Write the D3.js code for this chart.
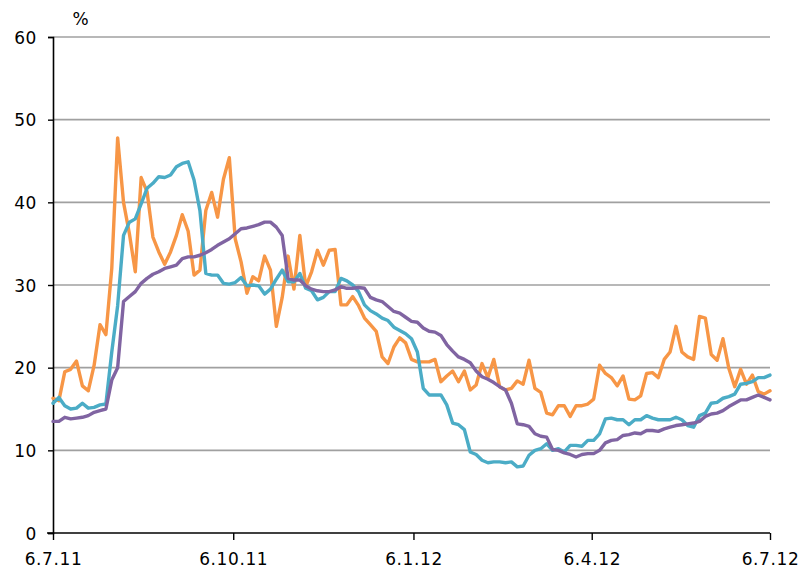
<!DOCTYPE html>
<html>
<head>
<meta charset="utf-8">
<script src="https://cdn.jsdelivr.net/npm/d3@7"></script>
<style>
  html, body { margin: 0; padding: 0; background: #fff; }
  svg text { font-family: "DejaVu Sans", sans-serif; font-size: 17px; fill: #000; letter-spacing: 0.6px; }
</style>
</head>
<body>
<svg id="chart" width="803" height="573"></svg>
<script>
// ---- data ----
const startDate = "2011-07-06";
const endDate = "2012-07-06";
const stepDays = 3; // observations every 3 days
const tickLabels = ["6.7.11", "6.10.11", "6.1.12", "6.4.12", "6.7.12"];
const yTicks = [0, 10, 20, 30, 40, 50, 60];
const unitLabel = "%";

const seriesOrange = [16.3,16.0,19.5,19.8,20.8,17.8,17.2,20.3,25.2,24.0,
  32.0,47.8,40.0,36.2,31.6,43.0,41.3,35.8,34.0,32.5,
  34.0,36.0,38.5,36.5,31.2,31.8,39.0,41.2,38.2,42.8,
  45.4,35.6,32.8,29.0,31.0,30.5,33.5,31.8,25.0,28.5,
  33.5,29.5,36.0,29.8,31.6,34.2,32.4,34.2,34.3,27.6,
  27.6,28.6,27.5,26.0,25.2,24.4,21.3,20.5,22.5,23.6,
  23.0,21.0,20.7,20.7,20.7,21.0,18.3,19.0,19.6,18.3,
  19.6,17.3,17.9,20.5,18.8,21.0,17.7,17.3,17.5,18.4,
  18.0,20.9,17.5,17.0,14.5,14.3,15.4,15.4,14.1,15.4,
  15.4,15.6,16.2,20.3,19.3,18.8,17.8,19.0,16.2,16.1,
  16.6,19.3,19.4,18.8,21.0,21.9,25.0,21.9,21.3,21.0,
  26.2,26.0,21.6,20.9,23.5,19.9,17.7,19.8,18.0,19.1,
  17.1,16.8,17.2];

const seriesTeal = [15.7,16.4,15.4,15.0,15.1,15.7,15.1,15.2,15.5,15.6,
  21.9,27.5,36.0,37.6,38.0,39.8,41.7,42.3,43.1,43.0,
  43.3,44.3,44.7,44.9,42.7,39.0,31.4,31.2,31.2,30.2,
  30.1,30.3,30.9,29.9,30.0,29.9,28.9,29.5,30.7,31.8,
  30.4,30.4,31.4,29.6,29.3,28.2,28.5,29.2,29.2,30.8,
  30.5,30.0,29.2,27.6,26.9,26.5,26.0,25.7,24.9,24.5,
  24.1,23.5,21.9,17.5,16.7,16.7,16.7,15.5,13.3,13.1,
  12.5,9.8,9.5,8.8,8.5,8.6,8.6,8.5,8.6,8.0,
  8.1,9.4,10.0,10.2,10.8,10.0,10.2,9.8,10.6,10.6,
  10.5,11.2,11.2,12.0,13.8,13.9,13.7,13.7,13.1,13.7,
  13.7,14.2,13.9,13.7,13.7,13.7,14.0,13.7,13.0,12.8,
  14.2,14.5,15.7,15.8,16.3,16.5,16.8,18.0,18.1,18.3,
  18.8,18.8,19.1];

const seriesPurple = [13.5,13.5,14.0,13.8,13.9,14.0,14.2,14.6,14.8,15.0,
  18.5,20.0,28.0,28.6,29.2,30.2,30.8,31.3,31.6,32.0,
  32.2,32.4,33.2,33.4,33.4,33.6,33.9,34.3,34.8,35.2,
  35.6,36.2,36.8,36.9,37.1,37.3,37.6,37.6,37.0,36.0,
  30.8,30.6,30.6,29.9,29.5,29.3,29.2,29.2,29.4,29.8,
  29.6,29.6,29.7,29.6,28.5,28.2,28.0,27.4,26.8,26.6,
  26.1,25.6,25.5,24.8,24.4,24.3,23.9,22.8,22.0,21.3,
  21.0,20.6,19.6,18.9,18.6,18.2,17.7,17.3,15.7,13.2,
  13.1,12.9,12.0,11.7,11.6,10.1,10.0,9.7,9.5,9.2,
  9.5,9.6,9.6,10.0,10.9,11.2,11.3,11.8,11.9,12.1,
  12.0,12.4,12.4,12.3,12.6,12.8,13.0,13.1,13.2,13.3,
  13.5,14.1,14.4,14.5,14.8,15.3,15.7,16.1,16.1,16.4,
  16.7,16.4,16.1];

const seriesColors = ["#F79646", "#4BACC6", "#8064A2"];

// ---- chart ----
const parse = d3.timeParse("%Y-%m-%d");
const t0 = parse(startDate), t1 = parse(endDate);
const dates = seriesOrange.map((_, i) => d3.timeDay.offset(t0, i * stepDays));
const tickDates = tickLabels.map(s => d3.timeParse("%d.%m.%y")(s));

const svg = d3.select("#chart");
const margin = { left: 53, right: 33, top: 37, bottom: 40 };
const W = 803, H = 573;

const x = d3.scaleTime().domain([t0, t1]).range([margin.left, W - margin.right]);
const y = d3.scaleLinear().domain([0, 60]).range([H - margin.bottom, margin.top]);

// gridlines
svg.append("g").selectAll("line")
  .data(yTicks.filter(v => v > 0))
  .join("line")
  .attr("x1", x(t0)).attr("x2", x(t1))
  .attr("y1", d => y(d)).attr("y2", d => y(d))
  .attr("stroke", "#a0a0a0").attr("stroke-width", 1.6);

// y axis
const yAxis = d3.axisLeft(y).tickValues(yTicks).tickSize(5).tickPadding(11).tickFormat(d3.format("d"));
const gy = svg.append("g").attr("transform", `translate(${x(t0)},0)`).call(yAxis);
gy.select(".domain").attr("stroke", "#000").attr("stroke-width", 1.6);
gy.selectAll(".tick line").attr("stroke", "#000").attr("stroke-width", 1.4);
gy.selectAll("text").attr("font-size", null).attr("font-family", null).attr("dy", "0.36em");

// lines
const lineGen = d3.line().x((d, i) => x(dates[i])).y(d => y(d)).curve(d3.curveLinear);
[seriesOrange, seriesTeal, seriesPurple].forEach((s, k) => {
  svg.append("path")
    .datum(s)
    .attr("d", lineGen)
    .attr("fill", "none")
    .attr("stroke", seriesColors[k])
    .attr("stroke-width", 3.4)
    .attr("stroke-linejoin", "round")
    .attr("stroke-linecap", "round");
});

// x axis
const xAxis = d3.axisBottom(x).tickValues(tickDates).tickSize(7).tickPadding(13)
  .tickFormat((d, i) => tickLabels[i]);
const gx = svg.append("g").attr("transform", `translate(0,${y(0)})`).call(xAxis);
gx.select(".domain").attr("stroke", "#000").attr("stroke-width", 1.6).attr("d", `M${x(t0) - 6},0H${x(t1)}`);
gx.selectAll(".tick line").attr("stroke", "#000").attr("stroke-width", 1.4);
gx.selectAll("text").attr("font-size", null).attr("font-family", null);

// unit label
svg.append("text").attr("x", 81).attr("y", 25).attr("text-anchor", "middle").text(unitLabel);
</script>
</body>
</html>
